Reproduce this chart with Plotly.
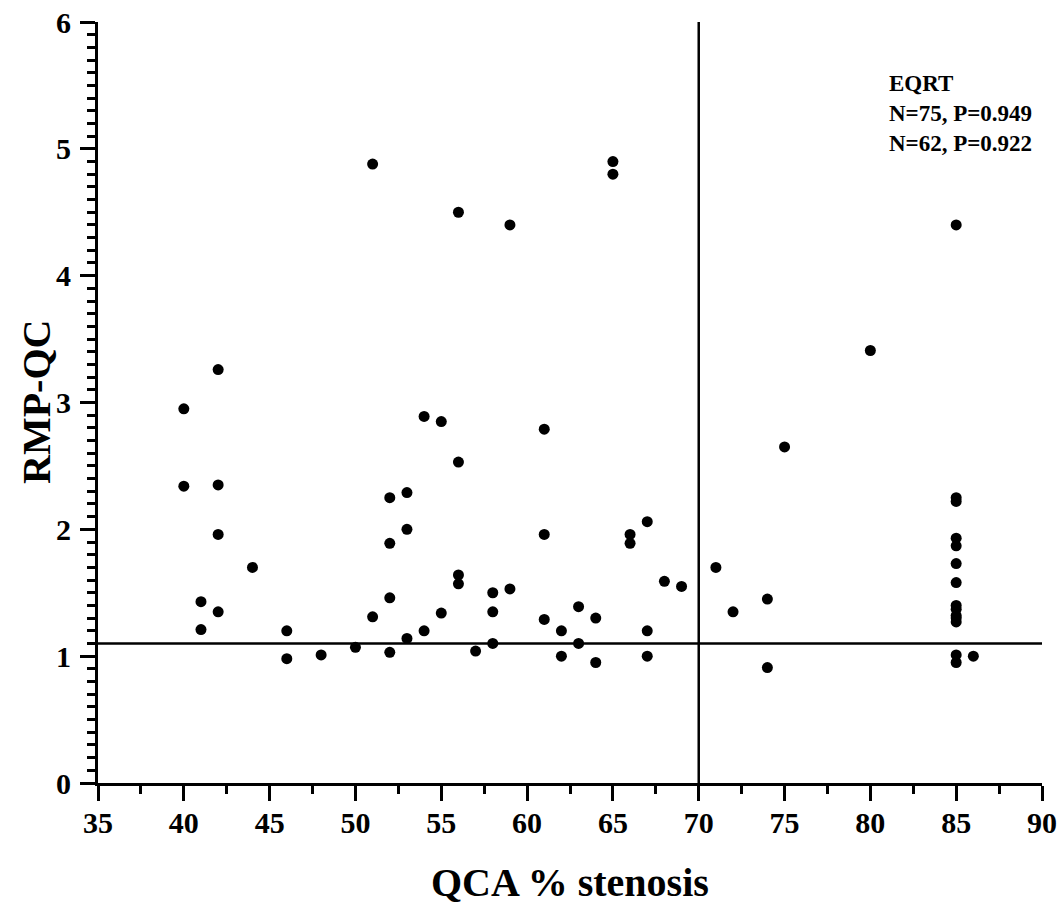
import plotly.graph_objects as go

# Data (QCA % stenosis vs RMP-QC)
stenosis = [40, 40,
            41, 41,
            42, 42, 42, 42,
            44,
            46, 46,
            48,
            50,
            51, 51,
            52, 52, 52, 52,
            53, 53, 53,
            54, 54,
            55, 55,
            56, 56, 56, 56,
            57,
            58, 58, 58,
            59, 59,
            61, 61, 61,
            62, 62,
            63, 63,
            64, 64,
            65, 65,
            66, 66,
            67, 67, 67,
            68,
            69,
            71,
            72,
            74, 74,
            75,
            80,
            85, 85, 85, 85, 85, 85, 85, 85, 85, 85, 85, 85, 85, 85,
            86]
rmp_qc = [2.95, 2.34,
          1.43, 1.21,
          3.26, 2.35, 1.96, 1.35,
          1.70,
          1.20, 0.98,
          1.01,
          1.07,
          4.88, 1.31,
          2.25, 1.89, 1.46, 1.03,
          2.29, 2.00, 1.14,
          2.89, 1.20,
          2.85, 1.34,
          4.50, 2.53, 1.64, 1.57,
          1.04,
          1.50, 1.35, 1.10,
          4.40, 1.53,
          2.79, 1.96, 1.29,
          1.20, 1.00,
          1.39, 1.10,
          1.30, 0.95,
          4.90, 4.80,
          1.96, 1.89,
          2.06, 1.20, 1.00,
          1.59,
          1.55,
          1.70,
          1.35,
          1.45, 0.91,
          2.65,
          3.41,
          4.40, 2.25, 2.22, 1.93, 1.87, 1.73, 1.58, 1.40, 1.37, 1.32, 1.30, 1.27, 1.01, 0.95,
          1.00]

x_range = [35, 90]
y_range = [0, 6]
x_ticks = [35, 40, 45, 50, 55, 60, 65, 70, 75, 80, 85, 90]
y_ticks = [0, 1, 2, 3, 4, 5, 6]
cut_x = 70
cut_y = 1.1
annot_lines = ["EQRT", "N=75, P=0.949", "N=62, P=0.922"]

FONT = "Liberation Serif"

fig = go.Figure()
fig.add_trace(go.Scatter(
    x=stenosis, y=rmp_qc, mode="markers",
    marker=dict(color="black", size=11, line=dict(width=0)),
    showlegend=False, hoverinfo="x+y",
))

# reference lines
fig.add_shape(type="line", xref="x", yref="y", x0=x_range[0], x1=x_range[1],
              y0=cut_y, y1=cut_y, line=dict(color="black", width=2.5))
fig.add_shape(type="line", xref="x", yref="y", x0=cut_x, x1=cut_x,
              y0=y_range[0], y1=y_range[1], line=dict(color="black", width=2.5))

# plot area at page x 98-1042, y 22-783 (body margin removed via post_script)
L, R, T, B = 98, 20, 22, 122
W, H = 1062, 905
pw, ph = W - L - R, H - T - B

def px_x(p):
    return (p - L) / pw

def px_y(p):
    return (H - B - p) / ph

fig.update_layout(
    width=W, height=H,
    margin=dict(l=L, r=R, t=T, b=B, autoexpand=False),
    paper_bgcolor="white", plot_bgcolor="white",
    font=dict(family=FONT, color="black"),
    xaxis=dict(
        range=x_range, tickmode="array", tickvals=x_ticks,
        showgrid=False, zeroline=False, showline=True, linecolor="black", linewidth=3,
        ticks="outside", ticklen=15, tickwidth=2.5, tickcolor="black",
        tickfont=dict(family=FONT, size=30, color="black", weight="bold"),
        ticklabelstandoff=-4,
        minor=dict(dtick=2.5, tick0=35, ticks="outside", ticklen=8, tickwidth=2.5, tickcolor="black", showgrid=False),
    ),
    yaxis=dict(
        range=y_range, tickmode="array", tickvals=y_ticks,
        showgrid=False, zeroline=False, showline=True, linecolor="black", linewidth=3,
        ticks="outside", ticklen=15, tickwidth=2.5, tickcolor="black",
        tickfont=dict(family=FONT, size=30, color="black", weight="bold"),
        ticklabelstandoff=3,
        minor=dict(dtick=0.1, tick0=0, ticks="outside", ticklen=8, tickwidth=2.5, tickcolor="black", showgrid=False),
    ),
)

# axis titles
fig.add_annotation(xref="paper", yref="paper", x=px_x(570), y=px_y(882),
                   text="<b>QCA % stenosis</b>", showarrow=False,
                   font=dict(family=FONT, size=40, color="black"),
                   xanchor="center", yanchor="middle")
fig.add_annotation(xref="paper", yref="paper", x=px_x(36), y=px_y(402),
                   text="<b>RMP-QC</b>", showarrow=False, textangle=-90,
                   font=dict(family=FONT, size=40, color="black"),
                   xanchor="center", yanchor="middle")

# statistics text
for i, line in enumerate(annot_lines):
    fig.add_annotation(xref="paper", yref="paper", x=px_x(887), y=px_y(83 + 30 * i),
                       text="<b>" + line + "</b>", showarrow=False,
                       font=dict(family=FONT, size=23, color="black"),
                       xanchor="left", yanchor="middle")

fig.write_html("out.html", config={"displayModeBar": False},
               post_script="document.body.style.margin='0';")
